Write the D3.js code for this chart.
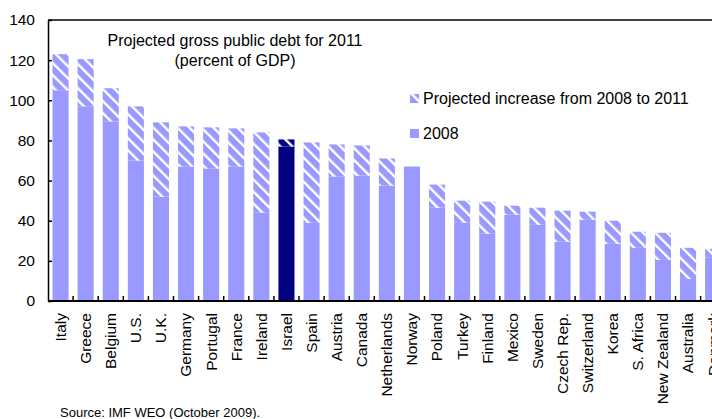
<!DOCTYPE html>
<html>
<head>
<meta charset="utf-8">
<script src="https://cdn.jsdelivr.net/npm/d3@7"></script>
<style>
  body { margin: 0; background: #fff; }
  text { font-family: "Liberation Sans", Arial, sans-serif; fill: #000; }
</style>
</head>
<body>
<div id="chart-area"></div>
<script>
var countries = ["Italy", "Greece", "Belgium", "U.S.", "U.K.", "Germany", "Portugal", "France", "Ireland", "Israel",
    "Spain", "Austria", "Canada", "Netherlands", "Norway", "Poland", "Turkey", "Finland", "Mexico", "Sweden",
    "Czech Rep.", "Switzerland", "Korea", "S. Africa", "New Zealand", "Australia", "Denmark"];
var debt2008 = [105, 97, 89.5, 70, 52, 67, 66, 67, 44, 77,
    39, 62, 62.5, 57.5, 67, 46.5, 39, 33.5, 43, 38,
    29.5, 40.5, 28.5, 26.5, 20.5, 11, 21.5];
var debt2011 = [123, 120.5, 106, 97, 89, 87, 86.5, 86, 84, 80.5,
    79, 78, 77.5, 71, 67, 58, 50, 49.5, 47.5, 46.5,
    45, 44.5, 40, 34.5, 34, 26.5, 26];
var highlight = "Israel";
var yTicks = [0, 20, 40, 60, 80, 100, 120, 140];
var titleLines = ["Projected gross public debt for 2011", "(percent of GDP)"];
var legendItems = ["Projected increase from 2008 to 2011", "2008"];

var W = 712, H = 419;
var x0 = 48, yTop = 20, yBottom = 301;
var step = 25.1;

var lavender = "#9999ff", navy = "#000080";

var svg = d3.select("#chart-area").append("svg")
    .attr("width", W)
    .attr("height", H)
    .style("display", "block");

// hatch patterns
var defs = svg.append("defs");
function hatch(id, bg) {
    var p = defs.append("pattern")
        .attr("id", id)
        .attr("patternUnits", "userSpaceOnUse")
        .attr("width", 8.5)
        .attr("height", 8.5)
        .attr("patternTransform", "rotate(-45)");
    p.append("rect").attr("width", 8.5).attr("height", 8.5).attr("fill", bg);
    p.append("rect").attr("x", 0).attr("width", 2.4).attr("height", 8.5).attr("fill", "#fff");
}
hatch("hatch", lavender);
hatch("hatchDark", navy);

var data = countries.map((c, i) => ({ country: c, d2008: debt2008[i], d2011: debt2011[i] }));

// Scales
var x = d3.scaleBand()
    .domain(countries)
    .range([x0, x0 + step * countries.length])
    .paddingInner(0.36)
    .paddingOuter(0.18);
var y = d3.scaleLinear().domain([0, 140]).range([yBottom, yTop]);

// frame top line
svg.append("line")
    .attr("x1", x0).attr("x2", W + 20)
    .attr("y1", yTop).attr("y2", yTop)
    .attr("stroke", "#000").attr("stroke-width", 1.5);

// bars: 2008 part
svg.selectAll("rect.base").data(data).enter().append("rect")
    .attr("class", "base")
    .attr("x", d => x(d.country))
    .attr("width", x.bandwidth())
    .attr("y", d => y(d.d2008))
    .attr("height", d => y(0) - y(d.d2008))
    .attr("fill", d => d.country === highlight ? navy : lavender);

// bars: projected increase
svg.selectAll("rect.inc").data(data.filter(d => d.d2011 > d.d2008)).enter().append("rect")
    .attr("class", "inc")
    .attr("x", d => x(d.country))
    .attr("width", x.bandwidth())
    .attr("y", d => y(d.d2011))
    .attr("height", d => y(d.d2008) - y(d.d2011))
    .attr("fill", d => d.country === highlight ? "url(#hatchDark)" : "url(#hatch)");

// Y axis
var yAxis = d3.axisLeft(y).tickValues(yTicks).tickSizeInner(-4).tickSizeOuter(0).tickPadding(13);
var gy = svg.append("g").attr("transform", `translate(${x0},0)`).call(yAxis);
gy.select(".domain").attr("stroke-width", 1.5);
gy.selectAll(".tick line").attr("stroke-width", 1.5);
gy.selectAll("text").style("font-size", "15.5px").style("font-family", "Liberation Sans, Arial, sans-serif");

// X axis
var xAxis = d3.axisBottom(x).tickSize(0).tickPadding(0);
var gx = svg.append("g").attr("transform", `translate(0,${yBottom})`).call(xAxis);
gx.select(".domain").remove();
gx.selectAll(".tick text")
    .attr("transform", "translate(0,12) rotate(-90)")
    .attr("text-anchor", "end")
    .attr("x", 0).attr("y", 0).attr("dy", "0.35em")
    .style("font-size", "15.5px")
    .style("font-family", "Liberation Sans, Arial, sans-serif");

// tick marks between categories
svg.selectAll("line.xtick").data(countries.slice(1)).enter().append("line")
    .attr("class", "xtick")
    .attr("x1", d => x(d) - x.step() * x.paddingInner() / 2)
    .attr("x2", d => x(d) - x.step() * x.paddingInner() / 2)
    .attr("y1", yBottom).attr("y2", yBottom - 5)
    .attr("stroke", "#000").attr("stroke-width", 1.5);

svg.append("line")
    .attr("x1", x0).attr("x2", W + 20)
    .attr("y1", yBottom).attr("y2", yBottom)
    .attr("stroke", "#000").attr("stroke-width", 2);

// Title
svg.selectAll("text.title").data(titleLines).enter().append("text")
    .attr("class", "title")
    .attr("x", 235)
    .attr("y", (d, i) => 46 + i * 20)
    .attr("text-anchor", "middle")
    .style("font-size", "16px")
    .text(d => d);

// Legend
var legend = svg.append("g").attr("transform", "translate(410,94)");
legendItems.forEach((item, i) => {
    var row = legend.append("g").attr("transform", `translate(0,${i * 35})`);
    row.append("rect")
        .attr("width", 9).attr("height", 9)
        .attr("fill", i === 0 ? "url(#hatch)" : lavender);
    row.append("text")
        .attr("x", 13).attr("y", 9.5)
        .style("font-size", "16px")
        .text(item);
});

// Source
svg.append("text")
    .attr("x", 60).attr("y", 417)
    .style("font-size", "13px")
    .text("Source: IMF WEO (October 2009).");
</script>
</body>
</html>
